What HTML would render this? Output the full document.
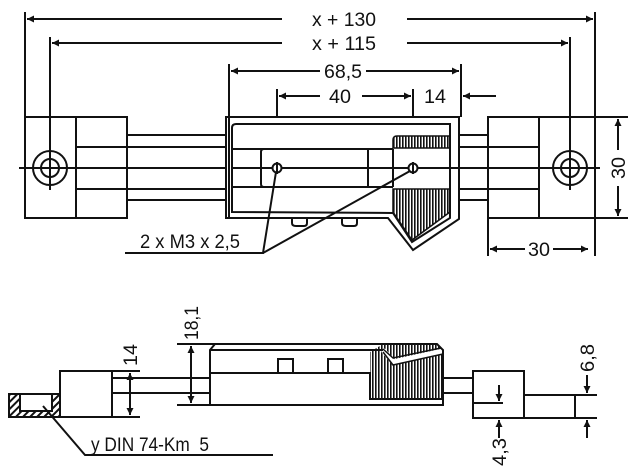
<!DOCTYPE html>
<html><head><meta charset="utf-8"><style>
html,body{margin:0;padding:0;background:#fff;}
svg{display:block}
text{font-family:"Liberation Sans",sans-serif;font-size:19px;fill:#111;}
</style></head><body>
<svg width="629" height="470" viewBox="0 0 629 470" xmlns="http://www.w3.org/2000/svg">
<defs>
<marker id="a" viewBox="0 0 10 10" refX="10" refY="5" markerWidth="9" markerHeight="7" orient="auto-start-reverse" markerUnits="userSpaceOnUse"><path d="M0,0L10,5L0,10z" fill="#111"/></marker>
<pattern id="vh" width="3" height="10" patternUnits="userSpaceOnUse"><rect x="0" y="0" width="1.6" height="10" fill="#111"/></pattern>
<pattern id="dh" width="5" height="5" patternUnits="userSpaceOnUse" patternTransform="rotate(45)"><rect x="0" y="0" width="2" height="5" fill="#111"/></pattern>
</defs>
<g stroke="#111" stroke-width="2" fill="none">
<line x1="25" y1="12" x2="25" y2="117"/>
<line x1="50" y1="37" x2="50" y2="190"/>
<line x1="595" y1="12" x2="595" y2="117"/>
<line x1="570" y1="37" x2="570" y2="190"/>
<line x1="27" y1="19" x2="282" y2="19" marker-start="url(#a)"/>
<line x1="407" y1="19" x2="593" y2="19" marker-end="url(#a)"/>
<line x1="52" y1="43" x2="282" y2="43" marker-start="url(#a)"/>
<line x1="407" y1="43" x2="568" y2="43" marker-end="url(#a)"/>
<line x1="229" y1="64" x2="229" y2="117"/>
<line x1="461" y1="64" x2="461" y2="117"/>
<line x1="231" y1="71" x2="320" y2="71" marker-start="url(#a)"/>
<line x1="366" y1="71" x2="459" y2="71" marker-end="url(#a)"/>
<line x1="277" y1="89" x2="277" y2="168"/>
<line x1="413" y1="89" x2="413" y2="168"/>
<line x1="279" y1="96" x2="320" y2="96" marker-start="url(#a)"/>
<line x1="362" y1="96" x2="411" y2="96" marker-end="url(#a)"/>
<line x1="496" y1="96" x2="463" y2="96" marker-end="url(#a)"/>

<rect x="25" y="117" width="102" height="101"/>
<line x1="76" y1="117" x2="76" y2="218"/>
<circle cx="50" cy="168" r="17"/>
<circle cx="50" cy="168" r="9"/>
<line x1="19" y1="168" x2="600" y2="168"/>
<line x1="127" y1="135" x2="226" y2="135"/>
<line x1="76" y1="147" x2="226" y2="147"/>
<line x1="76" y1="189" x2="226" y2="189"/>
<line x1="127" y1="200" x2="226" y2="200"/>
<line x1="459" y1="135" x2="488" y2="135"/>
<line x1="459" y1="147" x2="539" y2="147"/>
<line x1="459" y1="189" x2="539" y2="189"/>
<line x1="459" y1="200" x2="488" y2="200"/>
<path d="M226,117 L459,117 L459,219 L413,250 L388,218 L226,218 Z" fill="#fff"/>
<path d="M236,124 L450,124 L450,218 L412,242 L393,213 L232,212 L232,128 Q232,124 236,124 Z"/>
<line x1="232" y1="149" x2="393" y2="149"/>
<line x1="232" y1="187" x2="393" y2="187"/>
<path d="M368,149 L264,149 Q261,149 261,152 L261,184 Q261,187 264,187 L368,187"/>
<line x1="368" y1="149" x2="368" y2="187"/>
<line x1="393" y1="149" x2="393" y2="187"/>
<line x1="232" y1="168" x2="600" y2="168"/>
<line x1="229" y1="117" x2="229" y2="218"/>
<path d="M292,218 L292,223 Q292,226 296,226 L304,226 Q307,226 307,223 L307,218"/>
<path d="M342,218 L342,223 Q342,226 346,226 L354,226 Q357,226 357,223 L357,218"/>
</g>
<path d="M397,136 L450,136 L450,148 L393,148 L393,140 Q393,136 397,136 Z" fill="url(#vh)" stroke="#111" stroke-width="1.5"/>
<path d="M393,189 L450,189 L450,212 L412,240 L393,212 Z" fill="url(#vh)" stroke="#111" stroke-width="1.5"/>
<g stroke="#111" stroke-width="2" fill="none">
<circle cx="277" cy="168" r="4.5" fill="#fff"/>
<circle cx="413" cy="168" r="4.5" fill="#fff"/>
<line x1="277" y1="162" x2="277" y2="174"/>
<line x1="413" y1="162" x2="413" y2="174"/>
<polyline points="125,253 263,253 276,172"/>
<line x1="263" y1="253" x2="410" y2="171"/>
<rect x="488" y="117" width="107" height="101" fill="none"/>
<line x1="539" y1="117" x2="539" y2="218"/>
<line x1="595" y1="117" x2="628" y2="117"/>
<line x1="595" y1="218" x2="628" y2="218"/>
<circle cx="570" cy="168" r="17"/>
<circle cx="570" cy="168" r="9"/>
<line x1="570" y1="140" x2="570" y2="190"/>
<line x1="618" y1="119" x2="618" y2="150" marker-start="url(#a)"/>
<line x1="618" y1="186" x2="618" y2="216" marker-end="url(#a)"/>
<line x1="488" y1="218" x2="488" y2="256"/>
<line x1="595" y1="218" x2="595" y2="256"/>
<line x1="490" y1="249" x2="525" y2="249" marker-start="url(#a)"/>
<line x1="553" y1="249" x2="588" y2="249" marker-end="url(#a)"/>

<rect x="60" y="371" width="52" height="46"/>
<line x1="112" y1="371" x2="140" y2="371"/>
<line x1="112" y1="417" x2="140" y2="417"/>
<line x1="130" y1="373" x2="130" y2="415" marker-start="url(#a)" marker-end="url(#a)"/>
<line x1="112" y1="378" x2="210" y2="378"/>
<line x1="112" y1="393" x2="210" y2="393"/>
<line x1="177" y1="344" x2="215" y2="344"/>
<line x1="177" y1="405" x2="210" y2="405"/>
<line x1="191" y1="346" x2="191" y2="403" marker-start="url(#a)" marker-end="url(#a)"/>
</g>
<path d="M9,394 H60 V417 H9 Z M20,394 V411 H52 V394 Z" fill="url(#dh)" fill-rule="evenodd"/>
<g stroke="#111" stroke-width="2" fill="none">
<rect x="9" y="394" width="51" height="23"/>
<polyline points="20,394 20,411 52,411 52,394"/>
<polyline points="43,406 85,455 273,455"/>
</g>
<path d="M383,344 L437,344 L443,350 L443,399 L370,399 L370,352 Z" fill="url(#vh)"/>
<g stroke="#111" stroke-width="2" fill="none">
<polyline points="383,350 393,362 443,351" stroke="#fff" stroke-width="5"/>
<polyline points="383,349 393,358 441,348" stroke-width="1.5"/>
<polyline points="383,352 393,365 443,354" stroke-width="1.5"/>
<path d="M210,350 L215,344 L437,344 L443,350 L443,405 L210,405 Z"/>
<line x1="210" y1="350" x2="383" y2="350"/>
<polyline points="210,373 370,373 370,399 443,399"/>
<polyline points="278,373 278,359 293,359 293,373"/>
<polyline points="328,373 328,359 343,359 343,373"/>
<line x1="443" y1="378" x2="473" y2="378"/>
<line x1="443" y1="393" x2="473" y2="393"/>
<rect x="473" y="371" width="51" height="47"/>
<line x1="473" y1="403" x2="503" y2="403"/>
<line x1="499" y1="385" x2="499" y2="401" marker-end="url(#a)"/>
<line x1="499" y1="438" x2="499" y2="420" marker-end="url(#a)"/>
<line x1="524" y1="395" x2="597" y2="395"/>
<line x1="524" y1="418" x2="597" y2="418"/>
<line x1="575" y1="395" x2="575" y2="418"/>
<line x1="587" y1="375" x2="587" y2="393" marker-end="url(#a)"/>
<line x1="587" y1="438" x2="587" y2="420" marker-end="url(#a)"/>
</g>
<text x="312" y="26" textLength="64" lengthAdjust="spacingAndGlyphs">x + 130</text>
<text x="312" y="50" textLength="64" lengthAdjust="spacingAndGlyphs">x + 115</text>
<text x="324" y="78" textLength="38" lengthAdjust="spacingAndGlyphs">68,5</text>
<text x="329" y="103" textLength="22" lengthAdjust="spacingAndGlyphs">40</text>
<text x="424" y="103" textLength="22" lengthAdjust="spacingAndGlyphs">14</text>
<text x="140" y="248" textLength="100" lengthAdjust="spacingAndGlyphs">2 x M3 x 2,5</text>
<text x="528" y="256" textLength="22" lengthAdjust="spacingAndGlyphs">30</text>
<text transform="translate(625,179) rotate(-90)" textLength="22" lengthAdjust="spacingAndGlyphs">30</text>
<text transform="translate(137,366) rotate(-90)" textLength="22" lengthAdjust="spacingAndGlyphs">14</text>
<text transform="translate(198,340) rotate(-90)" textLength="34" lengthAdjust="spacingAndGlyphs">18,1</text>
<text transform="translate(506,466) rotate(-90)" textLength="28" lengthAdjust="spacingAndGlyphs">4,3</text>
<text transform="translate(594,372) rotate(-90)" textLength="28" lengthAdjust="spacingAndGlyphs">6,8</text>
<text x="91" y="451" textLength="118" lengthAdjust="spacingAndGlyphs">y DIN 74-Km&#160; 5</text>
</svg>
</body></html>
